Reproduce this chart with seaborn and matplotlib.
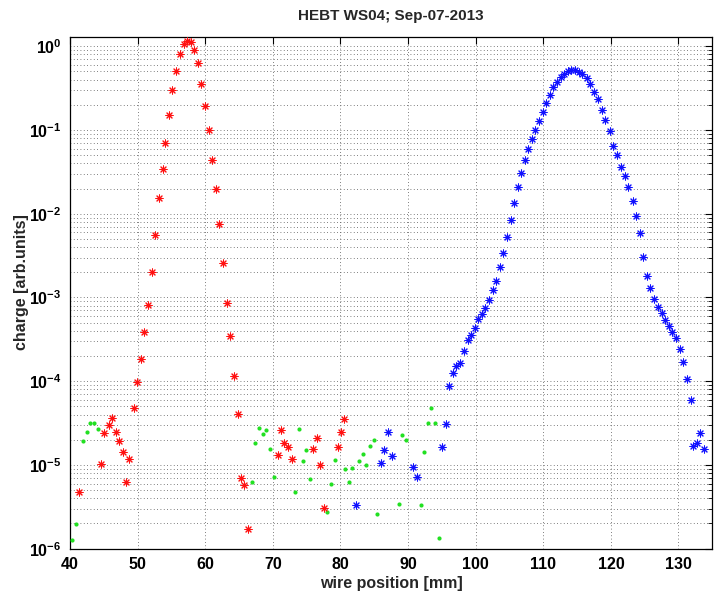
import numpy as np
import pandas as pd
import matplotlib
matplotlib.use("Agg")
import matplotlib.pyplot as plt
import seaborn as sns
from matplotlib import font_manager
from matplotlib.ticker import FixedLocator, FixedFormatter, LogLocator, NullFormatter

# ---------------- data ----------------
red_x = [41.4, 44.6, 45.1, 45.7, 46.2, 46.8, 47.3, 47.8, 48.3, 48.8, 49.4, 49.9,
         50.5, 51.0, 51.5, 52.1, 52.6, 53.1, 53.7, 54.1, 54.7, 55.1, 55.7, 56.3,
         56.8, 57.3, 57.9, 58.4, 59.0, 59.4, 59.9, 60.5, 61.0, 61.6, 62.1, 62.6,
         63.2, 63.7, 64.2, 64.8, 65.3, 65.8, 66.4, 70.7, 71.2, 71.7, 72.3, 72.8,
         76.0, 76.5, 77.0, 77.6, 79.7, 80.1, 80.6]
red_y = [4.7e-6, 1.03e-5, 2.43e-5, 3.0e-5, 3.64e-5, 2.46e-5, 1.92e-5, 1.42e-5,
         6.2e-6, 1.17e-5, 4.84e-5, 9.7e-5, 1.83e-4, 3.85e-4, 8.16e-4, 2.0e-3,
         5.55e-3, 0.0155, 0.034, 0.070, 0.153, 0.30, 0.51, 0.81, 1.06, 1.14,
         1.11, 0.91, 0.63, 0.35, 0.193, 0.100, 0.044, 0.020, 0.0075, 0.0026,
         8.55e-4, 3.48e-4, 1.14e-4, 4.07e-5, 6.9e-6, 5.7e-6, 1.7e-6, 1.33e-5,
         2.6e-5, 1.85e-5, 1.66e-5, 1.17e-5, 1.54e-5, 2.12e-5, 1.0e-5, 3.06e-6,
         1.66e-5, 2.5e-5, 3.57e-5]

green_x = [40.35, 40.85, 41.9, 42.5, 43.0, 43.55, 44.1, 66.9, 67.4, 68.0, 68.5,
           69.05, 69.6, 70.1, 73.3, 73.85, 74.4, 74.9, 75.45, 78.05, 78.65, 79.2,
           80.7, 81.2, 81.75, 82.8, 83.35, 83.85, 84.4, 84.95, 85.45, 88.6, 89.15,
           89.7, 91.9, 92.4, 92.95, 93.45, 94.0, 94.55]
green_y = [1.27e-6, 1.95e-6, 1.95e-5, 2.48e-5, 3.2e-5, 3.2e-5, 2.69e-5, 6.2e-6,
           1.83e-5, 2.74e-5, 2.36e-5, 2.64e-5, 1.54e-5, 7.1e-6, 4.75e-6, 2.69e-5,
           1.1e-5, 1.51e-5, 6.86e-6, 2.77e-6, 5.88e-6, 1.15e-5, 8.9e-6, 6.27e-6,
           9.3e-6, 1.12e-5, 1.35e-5, 1.0e-5, 1.69e-5, 1.97e-5, 2.6e-6, 3.42e-6,
           2.28e-5, 1.97e-5, 3.3e-6, 1.42e-5, 3.2e-5, 4.8e-5, 3.15e-5, 1.34e-6]

blue_x = [82.25, 86.0, 86.5, 87.1, 87.6, 90.75, 91.35, 95.05, 95.6, 96.1, 96.6,
          97.15, 97.75, 98.3, 98.8, 99.3, 99.85, 100.4, 100.95, 101.45, 102.0,
          102.55, 103.05, 103.6, 104.1, 104.65, 105.2, 105.7, 106.2, 106.7, 107.25,
          107.8, 108.3, 108.85, 109.4, 109.9, 110.4, 110.95, 111.5, 112.0, 112.55,
          113.1, 113.65, 114.15, 114.7, 115.25, 115.8, 116.4, 116.95, 117.5, 118.1,
          118.65, 119.2, 119.8, 120.35, 120.9, 121.5, 122.05, 122.6, 123.2, 123.75,
          124.35, 124.8, 125.35, 125.85, 126.45, 127.0, 127.5, 128.05, 128.6, 129.1,
          129.65, 130.15, 130.7, 131.25, 131.8, 132.2, 132.7, 133.2, 133.8]
blue_y = [3.33e-6, 1.05e-5, 1.51e-5, 2.46e-5, 1.27e-5, 9.5e-6, 7.25e-6, 1.64e-5,
          3.09e-5, 8.8e-5, 1.25e-4, 1.5e-4, 1.67e-4, 2.32e-4, 3.11e-4, 3.57e-4,
          4.3e-4, 5.5e-4, 6.4e-4, 7.4e-4, 9.3e-4, 1.23e-3, 1.59e-3, 2.3e-3, 3.44e-3,
          5.3e-3, 8.45e-3, 0.0134, 0.0211, 0.031, 0.0437, 0.060, 0.0778, 0.1005,
          0.129, 0.165, 0.2095, 0.264, 0.322, 0.377, 0.424, 0.469, 0.50, 0.514,
          0.514, 0.492, 0.466, 0.412, 0.35, 0.288, 0.234, 0.174, 0.130, 0.096,
          0.0648, 0.0505, 0.0366, 0.0284, 0.0208, 0.0143, 0.0093, 5.9e-3, 3.08e-3,
          1.81e-3, 1.29e-3, 9.6e-4, 7.65e-4, 6.5e-4, 5.4e-4, 4.58e-4, 3.92e-4,
          3.27e-4, 2.43e-4, 1.71e-4, 1.06e-4, 6.0e-5, 1.69e-5, 1.85e-5, 2.43e-5,
          1.54e-5]

x_ticks = [40, 50, 60, 70, 80, 90, 100, 110, 120, 130]
y_ticks = [1e-6, 1e-5, 1e-4, 1e-3, 1e-2, 1e-1, 1e0]
y_tick_labels = [r"$\mathbf{10^{-6}}$", r"$\mathbf{10^{-5}}$", r"$\mathbf{10^{-4}}$",
                 r"$\mathbf{10^{-3}}$", r"$\mathbf{10^{-2}}$", r"$\mathbf{10^{-1}}$",
                 r"$\mathbf{10^{0}}$"]
title = "HEBT WS04; Sep-07-2013"
xlabel = "wire position [mm]"
ylabel = "charge [arb.units]"

# ---------------- style ----------------
sns.set_theme(style="white")
names = {f.name for f in font_manager.fontManager.ttflist}
fam = "Liberation Sans Narrow" if "Liberation Sans Narrow" in names else "Liberation Sans"
plt.rcParams["font.family"] = [fam, "DejaVu Sans"]
plt.rcParams["mathtext.fontset"] = "custom"
plt.rcParams["mathtext.rm"] = fam
plt.rcParams["mathtext.bf"] = fam + ":bold"
plt.rcParams["axes.unicode_minus"] = False

fig = plt.figure(figsize=(7.17, 5.93), dpi=100)
ax = fig.add_axes([70 / 717, 1 - 548.7 / 593, 642.3 / 717, 512.0 / 593])

star = (8, 2, 0)
sns.scatterplot(x=green_x, y=green_y, ax=ax, color="#22e022", marker="o", s=9,
                linewidth=0, zorder=3)
sns.scatterplot(x=red_x, y=red_y, ax=ax, color="#ff1010", marker=star, s=26,
                linewidth=0.75, zorder=4)
sns.scatterplot(x=blue_x, y=blue_y, ax=ax, color="#1010ff", marker=star, s=26,
                linewidth=0.75, zorder=4)

ax.set_yscale("log")
ax.set_xlim(40, 135)
ax.set_ylim(1e-6, 1.3)

ax.xaxis.set_major_locator(FixedLocator(x_ticks))
ax.set_xticklabels([str(t) for t in x_ticks])
ax.yaxis.set_major_locator(FixedLocator(y_ticks))
ax.yaxis.set_major_formatter(FixedFormatter(y_tick_labels))
ax.yaxis.set_minor_locator(LogLocator(base=10, subs=np.arange(2, 10), numticks=20))
ax.yaxis.set_minor_formatter(NullFormatter())

ax.grid(True, which="major", axis="x", ls=(0, (1, 3)), color="#555555", lw=0.6)
ax.grid(True, which="both", axis="y", ls=(0, (1, 3)), color="#555555", lw=0.6)
ax.set_axisbelow(True)

ax.tick_params(which="both", direction="in", top=True, right=True, colors="black")
ax.tick_params(which="major", length=5, width=0.8, labelsize=11.5, pad=6)
ax.tick_params(which="minor", length=3, width=0.6)
for lab in ax.get_xticklabels():
    lab.set_fontweight("bold")
for sp in ax.spines.values():
    sp.set_color("black")
    sp.set_linewidth(0.9)

ax.set_title(title, fontsize=11, fontweight="bold", pad=12)
ax.set_xlabel(xlabel, fontsize=11.5, fontweight="bold", labelpad=3)
ax.set_ylabel(ylabel, fontsize=11.5, fontweight="bold")
ax.yaxis.set_label_coords(-0.064, 0.52)

fig.savefig("out.png", dpi=100, facecolor="white")
